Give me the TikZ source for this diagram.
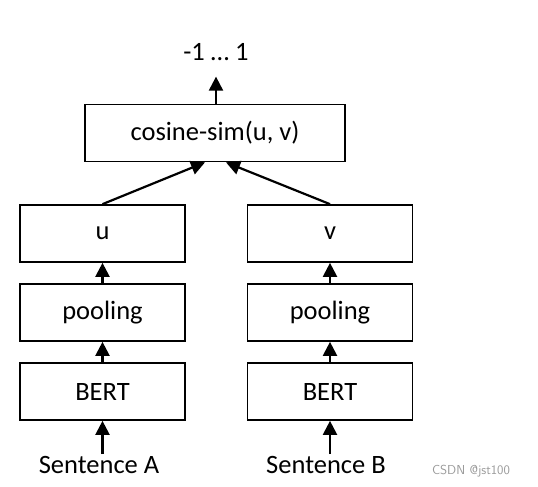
\documentclass[tikz,border=0pt]{standalone}
\usepackage{fontspec}
\setmainfont{Carlito}
\usetikzlibrary{arrows.meta}
\begin{document}
\begin{tikzpicture}[x=1pt,y=-1pt,
  blk/.style={draw, line width=1.7pt, minimum height=57pt, inner sep=0pt, font=\fontsize{26.5}{30}\selectfont},
  lbl/.style={inner sep=0pt, font=\fontsize{26.5}{30}\selectfont},
  arr/.style={line width=2.2pt, -{Triangle[length=14pt,width=14pt]}}]
\useasboundingbox (0,0) rectangle (538,487);
\node[blk, minimum width=260pt] (cos) at (215,133) {cosine-sim(u, v)};
\node[lbl] (out) at (216,52) {-1 … 1};
\node[blk, minimum width=165pt] (u) at (102.5,233.5) {u};
\node[blk, minimum width=165pt] (v) at (330,233.5) {v};
\node[blk, minimum width=165pt] (pa) at (102.5,312.5) {pooling};
\node[blk, minimum width=165pt] (pb) at (330,312.5) {pooling};
\node[blk, minimum width=165pt] (ba) at (102.5,391.5) {BERT};
\node[blk, minimum width=165pt] (bb) at (330,391.5) {BERT};
\node[lbl] (sa) at (99,465) {Sentence A};
\node[lbl] (sb) at (326,465) {Sentence B};
\node[inner sep=0pt, text=gray!80, font=\fontsize{13}{15}\sffamily] (wm) at (471,471) {CSDN @jst100};
\draw[arr] (cos.north -| out) -- ++(0,-27);
\draw[arr] (u.north) -- ([xshift=-10pt]cos.south);
\draw[arr] (v.north) -- ([xshift=11pt]cos.south);
\draw[arr] (pa) -- (u);
\draw[arr] (pb) -- (v);
\draw[arr] (ba) -- (pa);
\draw[arr] (bb) -- (pb);
\draw[arr] (sa.north -| ba) ++(0,-2) -- (ba.south);
\draw[arr] (sb.north -| bb) ++(0,-2) -- (bb.south);
\end{tikzpicture}
\end{document}
